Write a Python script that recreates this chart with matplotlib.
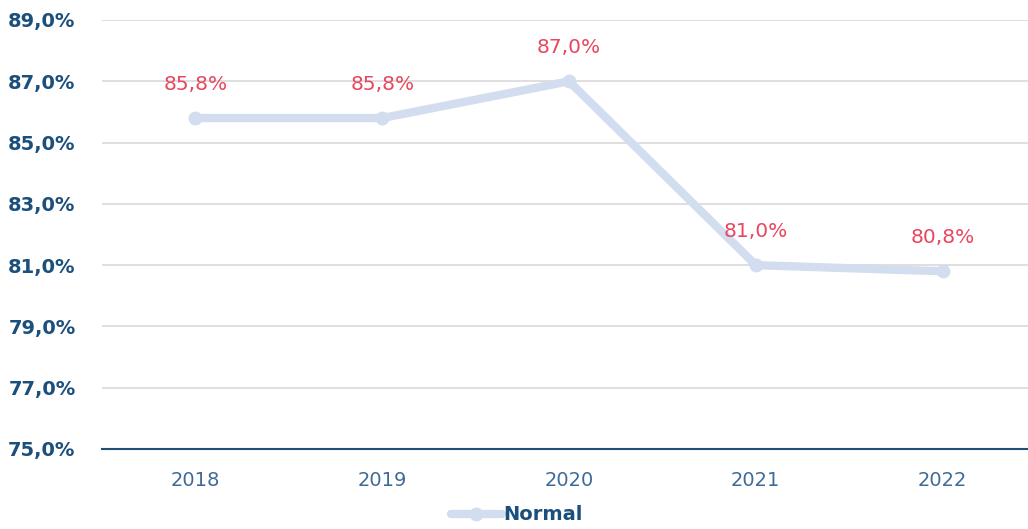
import matplotlib
matplotlib.use("Agg")
import matplotlib.pyplot as plt

years = ["2018", "2019", "2020", "2021", "2022"]
normal = [85.8, 85.8, 87.0, 81.0, 80.8]
yticks = [75, 77, 79, 81, 83, 85, 87, 89]
series_name = "Normal"

plt.rcParams['font.family'] = ['DejaVu Sans']

fig = plt.figure(figsize=(10.28, 5.29), dpi=100)
ax = fig.add_axes([102/1028, 80/529, 934/1028, 429/529])

x = list(range(len(years)))
line_color = "#d3ddf0"
ax.plot(x, normal, color=line_color, lw=6, marker='o', markersize=9,
        solid_capstyle='round', label=series_name, zorder=3, clip_on=False)

for xi, v in zip(x, normal):
    ax.annotate(f"{v:.1f}%".replace('.', ','), (xi, v), xytext=(0, 24.5),
                textcoords='offset points', ha='center', va='center',
                color="#e8475f", fontsize=14.5)

ax.set_xlim(-0.5, len(years) - 0.5)
ax.set_ylim(75, 89)
ax.set_yticks(yticks)
ax.set_yticklabels([f"{t:.1f}%".replace('.', ',') for t in yticks],
                   fontsize=14, fontweight='bold', color="#1b4f7c")
ax.set_xticks(x)
ax.set_xticklabels(years, fontsize=14, color="#3f6b96")
ax.tick_params(axis='both', length=0)
ax.tick_params(axis='y', pad=19)
ax.tick_params(axis='x', pad=16)

ax.grid(axis='y', color="#d9d9d9", lw=1.2)
ax.set_axisbelow(True)
for s in ['top', 'right', 'left']:
    ax.spines[s].set_visible(False)
ax.spines['bottom'].set_color("#1f4e79")
ax.spines['bottom'].set_linewidth(1.5)
ax.spines['bottom'].set_zorder(4)

leg = fig.legend(loc='center', bbox_to_anchor=(517/1028, 1 - 515/529), frameon=False,
                 prop={'size': 14, 'weight': 'bold'}, handlelength=2.6, handletextpad=0.1)
for t in leg.get_texts():
    t.set_color("#1b4f7c")

fig.savefig("out.png", dpi=100)
